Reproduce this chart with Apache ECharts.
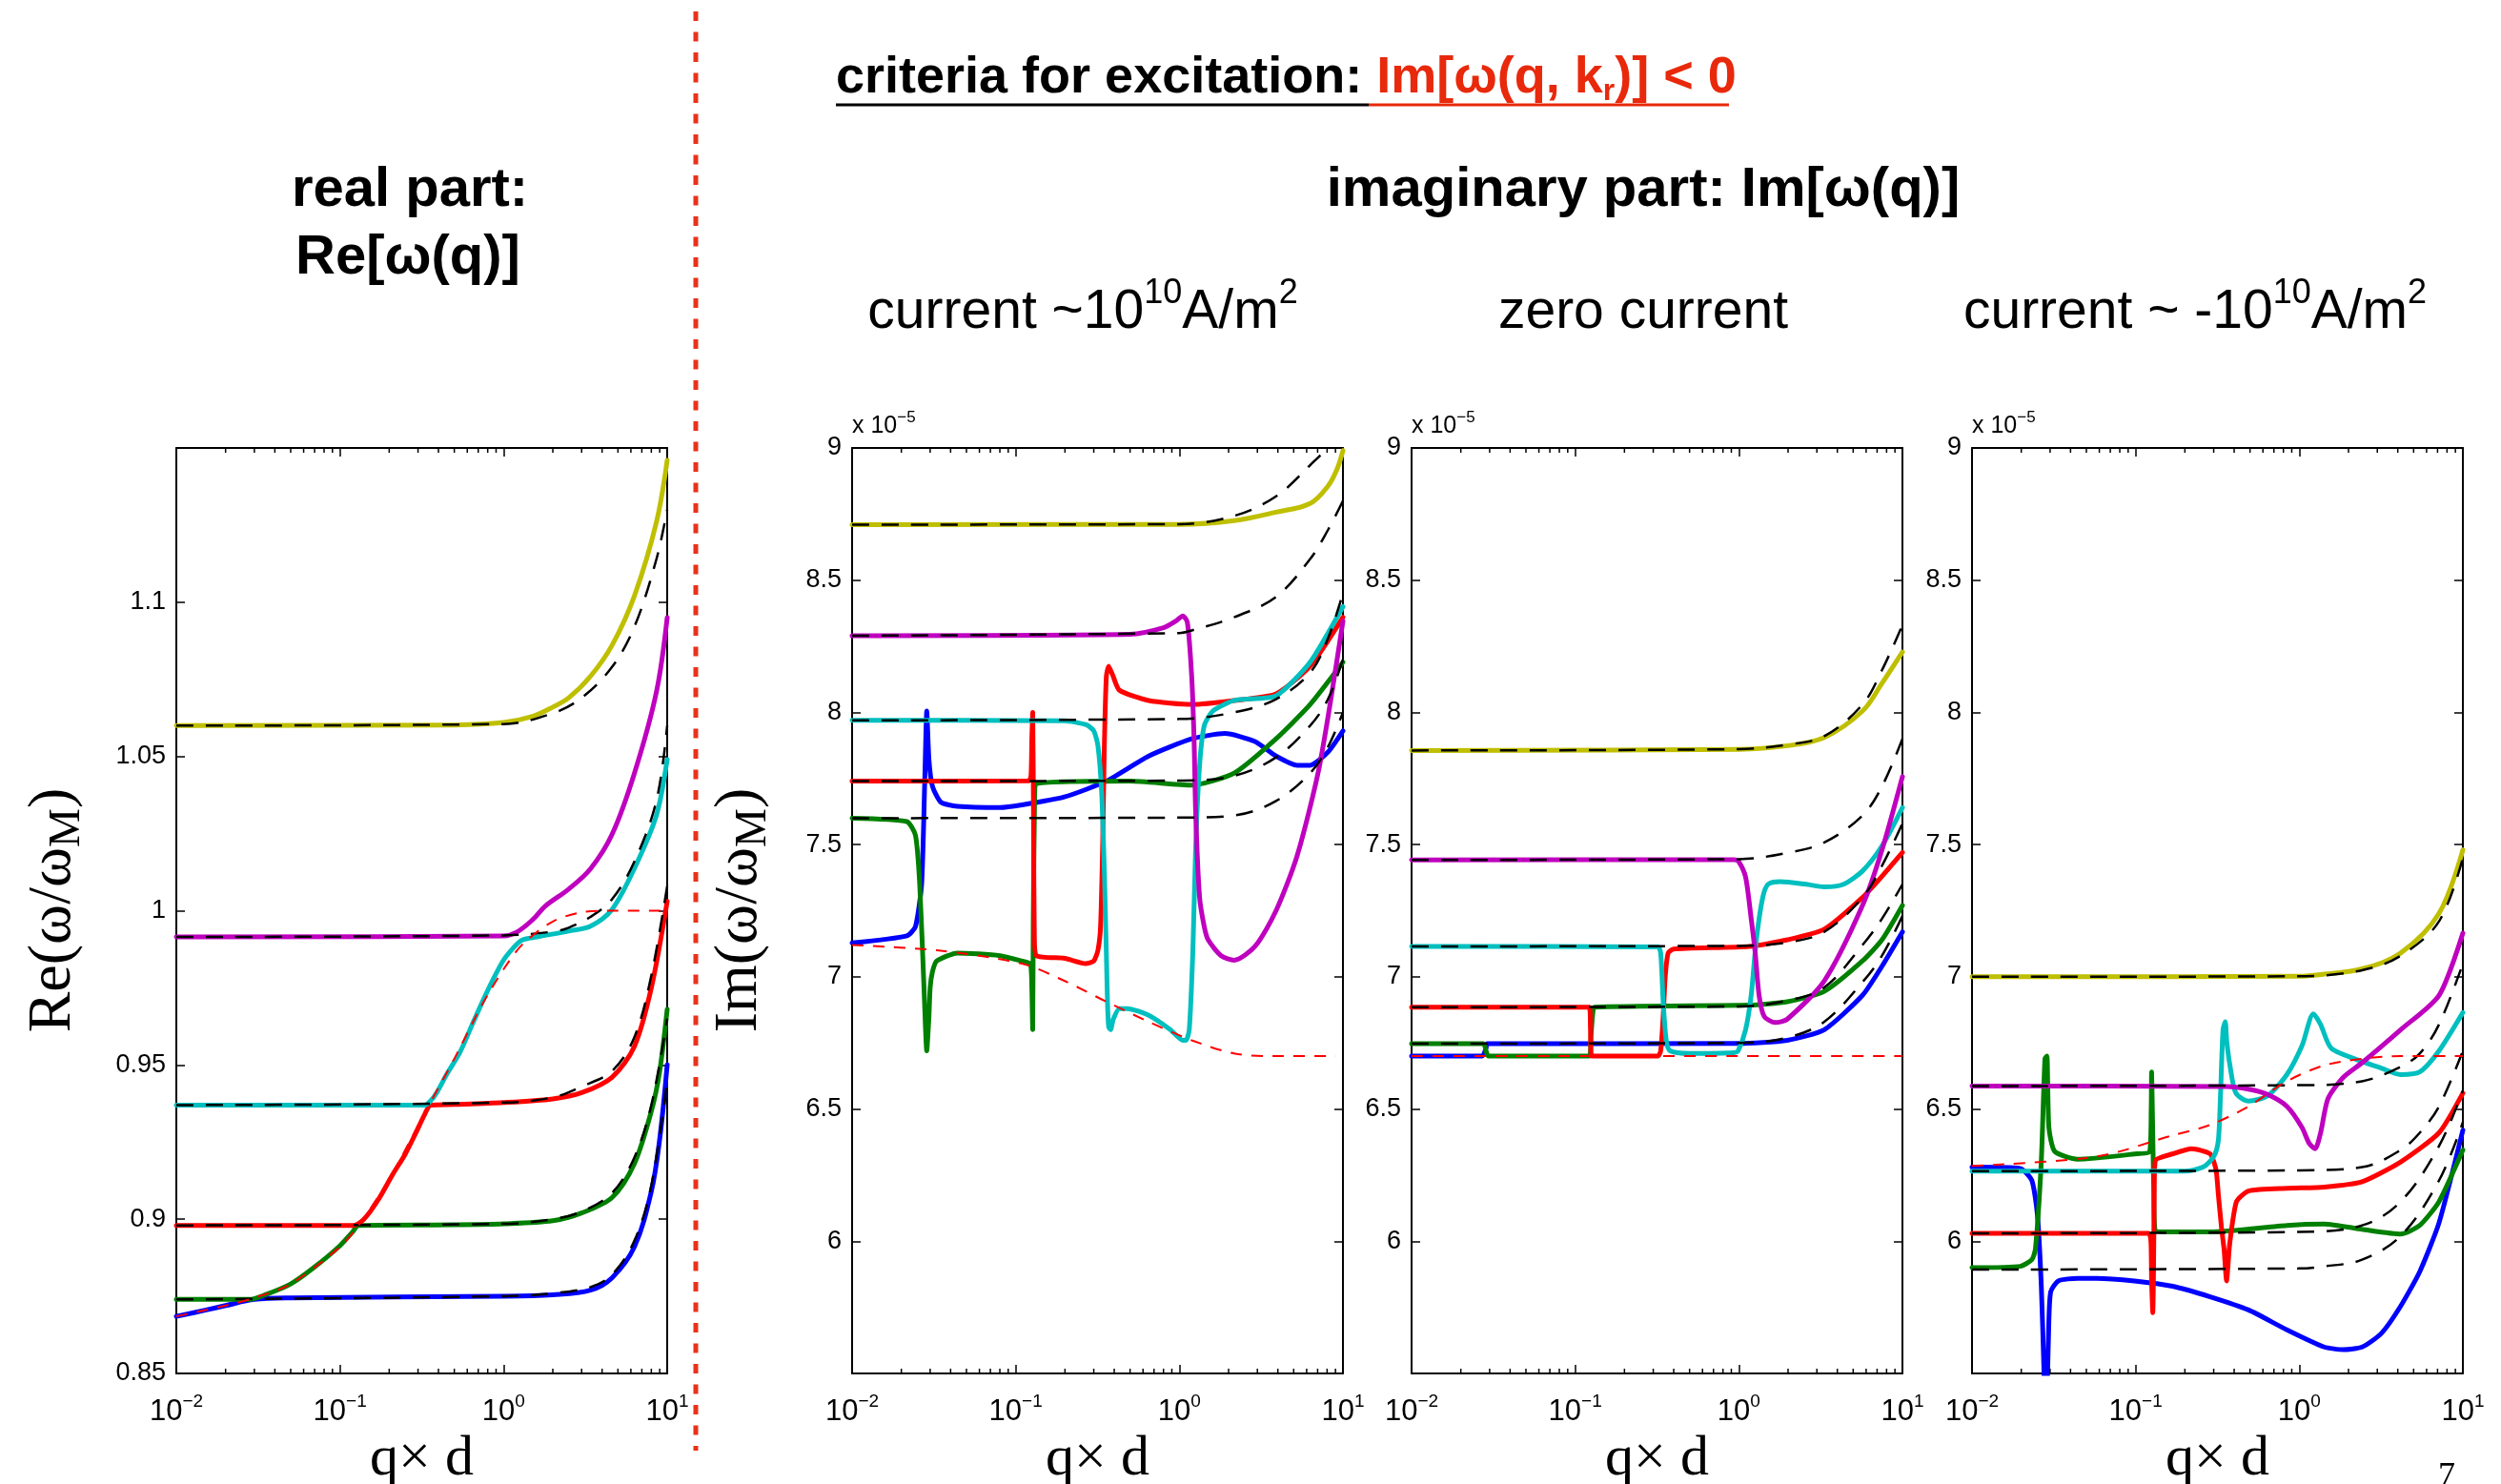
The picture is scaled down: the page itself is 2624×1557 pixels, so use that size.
<!DOCTYPE html>
<html><head><meta charset="utf-8">
<script src="https://cdn.jsdelivr.net/npm/echarts/dist/echarts.min.js"></script>
<style>html,body{margin:0;padding:0;background:#fff}#c{width:2624px;height:1557px}</style>
</head><body><div id="c"></div><script>
// ---------- tick positions ----------
const xMajorLabels = [0.01, 0.1, 1, 10];
const minorTicks = [0.02,0.03,0.04,0.05,0.06,0.07,0.08,0.09,0.2,0.3,0.4,0.5,0.6,0.7,0.8,0.9,2,3,4,5,6,7,8,9];

// ---------- panel 1 : Re(w/wM) ----------
const re_yellow  = [[0.01,1.060],[0.5,1.0602],[1,1.061],[1.5,1.063],[2,1.066],[2.5,1.069],[3.4,1.076],[4.6,1.086],[6.3,1.102],[8.6,1.126],[10,1.146]];
const re_magenta = [[0.01,0.9915],[1,0.9918],[1.2,0.993],[1.5,0.997],[1.8,1.0015],[2.5,1.007],[3.4,1.0136],[4.6,1.0247],[6.3,1.0445],[8.6,1.071],[10,1.095]];
const re_cyan    = [[0.01,0.937],[0.33,0.937],[0.36,0.9385],[0.39,0.941],[0.45,0.947],[0.54,0.954],[0.63,0.962],[0.73,0.9696],[0.85,0.977],[1.0,0.984],[1.15,0.988],[1.3,0.9905],[1.6,0.9915],[2.5,0.9934],[3.4,0.995],[4.6,1.0004],[6.3,1.0137],[8.6,1.031],[10,1.049]];
const re_red     = [[0.01,0.898],[0.12,0.898],[0.14,0.9],[0.17,0.906],[0.21,0.9145],[0.25,0.921],[0.29,0.9278],[0.33,0.934],[0.36,0.937],[0.5,0.9372],[1,0.9378],[2,0.939],[3,0.941],[4.6,0.946],[6.3,0.956],[8,0.975],[10,1.003]];
const re_green   = [[0.01,0.874],[0.028,0.874],[0.035,0.8755],[0.05,0.879],[0.07,0.8845],[0.1,0.8914],[0.12,0.896],[0.13,0.898],[0.5,0.8982],[1,0.8985],[2,0.8995],[3,0.902],[4.6,0.907],[6.3,0.918],[8,0.935],[9,0.948],[10,0.968]];
const re_blue    = [[0.01,0.8685],[0.015,0.8705],[0.02,0.872],[0.03,0.874],[0.05,0.8745],[1,0.875],[2,0.8755],[3.4,0.877],[4.6,0.881],[6.3,0.891],[8,0.909],[9,0.926],[10,0.95]];
const re_dash_y  = [[0.01,1.060],[1,1.0605],[2,1.064],[3,1.069],[4.6,1.079],[6.3,1.092],[8.6,1.114],[10,1.13]];
const re_dash_m  = [[0.01,0.9915],[1,0.992],[2,0.9932],[2.5,0.9945],[3.4,0.998],[4.6,1.0037],[6.3,1.0159],[8.6,1.0357],[10,1.06]];
const re_dash_r  = [[0.01,0.937],[1,0.9378],[2,0.9395],[3,0.943],[4.6,0.948],[6.3,0.959],[8,0.979],[10,1.008]];
const re_dash_g  = [[0.01,0.898],[1,0.8985],[2,0.9],[3,0.9025],[4.6,0.9085],[6.3,0.92],[8,0.937],[10,0.965]];
const re_dash_b  = [[0.01,0.874],[1,0.875],[2,0.876],[3.4,0.878],[4.6,0.882],[6.3,0.893],[8,0.911],[10,0.945]];
const re_light   = [[0.01,0.8685],[0.02,0.872],[0.03,0.8745],[0.05,0.879],[0.1,0.891],[0.13,0.898],[0.2,0.913],[0.35,0.937],[0.5,0.952],[0.73,0.969],[1.0,0.981],[1.3,0.989],[2,0.9965],[3,0.9995],[4.5,1.0],[10,1.0]];

// ---------- panel 2 : Im, current ~ +1e10 ----------
const p2_yellow  = [[0.01,8.71],[1,8.711],[2.16,8.725],[3.9,8.757],[6.3,8.79],[8.1,8.856],[9.2,8.92],[10,8.99]];
const p2_magenta = [[0.01,8.29],[0.5,8.295],[0.8,8.32],[0.95,8.345],[1.05,8.365],[1.12,8.34],[1.19,8.136],[1.23,7.9],[1.26,7.61],[1.33,7.30],[1.42,7.19],[1.5,7.14],[1.8,7.08],[2.16,7.063],[2.9,7.115],[3.9,7.25],[5.26,7.46],[7.2,7.80],[10,8.345]];
const p2_cyan    = [[0.01,7.97],[0.2,7.968],[0.27,7.953],[0.3,7.93],[0.318,7.874],[0.335,7.7],[0.348,7.4],[0.358,7.09],[0.364,6.9],[0.37,6.81],[0.38,6.80],[0.395,6.84],[0.43,6.88],[0.483,6.88],[0.65,6.854],[0.88,6.80],[1.05,6.76],[1.1,6.76],[1.15,6.8],[1.21,7.1],[1.26,7.5],[1.33,7.8],[1.42,7.95],[1.6,8.005],[2.16,8.045],[3.9,8.063],[6.3,8.19],[10,8.40]];
const p2_red     = [[0.01,7.74],[0.12,7.741],[0.124,7.76],[0.1255,7.9],[0.127,8.0],[0.1285,7.6],[0.13,7.15],[0.134,7.08],[0.2,7.07],[0.267,7.05],[0.3,7.06],[0.318,7.1],[0.33,7.19],[0.34,7.5],[0.348,7.87],[0.358,8.136],[0.37,8.175],[0.392,8.14],[0.43,8.084],[0.65,8.045],[1.19,8.03],[2.16,8.045],[3.9,8.07],[6.3,8.175],[10,8.36]];
const p2_green   = [[0.01,7.60],[0.0216,7.587],[0.0244,7.535],[0.0259,7.35],[0.0275,6.96],[0.0286,6.72],[0.0295,6.85],[0.03,6.96],[0.031,7.02],[0.0329,7.06],[0.044,7.09],[0.08,7.08],[0.109,7.06],[0.1225,7.05],[0.125,7.0],[0.127,6.80],[0.128,7.2],[0.13,7.6],[0.134,7.73],[0.5,7.74],[1.19,7.725],[2.16,7.77],[3.9,7.90],[6.3,8.03],[10,8.19]];
const p2_blue    = [[0.01,7.128],[0.0216,7.155],[0.0244,7.19],[0.0266,7.35],[0.0278,7.74],[0.0286,8.005],[0.0295,7.82],[0.031,7.72],[0.0349,7.66],[0.044,7.645],[0.08,7.64],[0.109,7.65],[0.198,7.68],[0.358,7.74],[0.65,7.835],[1.19,7.90],[1.9,7.92],[2.9,7.89],[3.9,7.835],[5.26,7.80],[6.3,7.80],[8.1,7.85],[10,7.93]];
const p2_dash_y  = [[0.01,8.71],[1,8.712],[2.16,8.743],[3.9,8.817],[6.3,8.935],[8.1,9.01],[10,9.15]];
const p2_dash_m  = [[0.01,8.29],[1,8.3],[1.19,8.31],[2.16,8.36],[3.9,8.437],[6.3,8.58],[8.1,8.69],[10,8.8]];
const p2_dash_c  = [[0.01,7.97],[1,7.975],[2.16,8.0],[3.9,8.05],[6.3,8.15],[8.1,8.28],[10,8.45]];
const p2_dash_r  = [[0.01,7.74],[1,7.742],[2.16,7.76],[3.9,7.83],[6.3,7.95],[8.1,8.05],[10,8.2]];
const p2_dash_g  = [[0.01,7.60],[1,7.602],[2.16,7.61],[3.9,7.665],[6.3,7.77],[8.1,7.87],[10,8.0]];
const p2_light   = [[0.01,7.12],[0.033,7.10],[0.109,7.05],[0.198,6.985],[0.358,6.906],[0.65,6.83],[1.19,6.76],[2.16,6.71],[3.9,6.70],[9,6.70]];

// ---------- panel 3 : Im, zero current ----------
const p3_yellow  = [[0.01,7.856],[1,7.86],[1.98,7.874],[3.33,7.905],[5.7,8.005],[7.5,8.11],[10,8.228]];
const p3_magenta = [[0.01,7.442],[0.94,7.443],[1.0,7.435],[1.1,7.377],[1.19,7.22],[1.26,7.09],[1.33,6.93],[1.43,6.85],[1.67,6.827],[1.98,6.84],[3.33,6.985],[5.7,7.27],[7.5,7.48],[10,7.757]];
const p3_cyan    = [[0.01,7.115],[0.32,7.113],[0.333,7.09],[0.345,6.905],[0.36,6.76],[0.38,6.72],[0.5,6.71],[0.94,6.713],[0.99,6.72],[1.10,6.80],[1.19,6.93],[1.28,7.14],[1.40,7.30],[1.51,7.35],[1.79,7.36],[2.58,7.35],[3.33,7.34],[4.37,7.35],[5.7,7.40],[7.5,7.495],[10,7.64]];
const p3_red     = [[0.01,6.885],[0.122,6.885],[0.124,6.80],[0.126,6.70],[0.32,6.70],[0.333,6.72],[0.345,6.85],[0.355,7.0],[0.37,7.09],[0.4,7.105],[1.16,7.115],[1.98,7.14],[3.33,7.18],[5.7,7.30],[7.5,7.38],[10,7.47]];
const p3_green   = [[0.01,6.747],[0.0275,6.747],[0.0285,6.72],[0.0295,6.70],[0.122,6.70],[0.125,6.78],[0.128,6.86],[0.131,6.885],[1.16,6.893],[1.98,6.906],[3.33,6.945],[5.7,7.06],[7.5,7.14],[10,7.27]];
const p3_blue    = [[0.01,6.70],[0.027,6.70],[0.0285,6.73],[0.029,6.747],[1,6.748],[1.98,6.76],[3.33,6.80],[5.7,6.93],[7.5,7.04],[10,7.17]];
const p3_dash_y  = [[0.01,7.856],[1,7.861],[1.98,7.878],[3.33,7.91],[5.7,8.03],[7.5,8.16],[10,8.33]];
const p3_dash_m  = [[0.01,7.442],[1,7.445],[1.98,7.469],[3.33,7.508],[5.7,7.61],[7.5,7.72],[10,7.90]];
const p3_dash_c  = [[0.01,7.115],[1,7.117],[1.98,7.13],[3.33,7.17],[5.7,7.30],[7.5,7.42],[10,7.58]];
const p3_dash_r  = [[0.01,6.885],[1,6.888],[1.98,6.91],[3.33,6.96],[5.7,7.12],[7.5,7.22],[10,7.35]];
const p3_dash_g  = [[0.01,6.747],[1,6.75],[1.98,6.77],[3.33,6.83],[5.7,6.98],[7.5,7.08],[10,7.23]];
const p3_light   = [[0.01,6.70],[10,6.70]];

// ---------- panel 4 : Im, current ~ -1e10 ----------
const p4_yellow  = [[0.01,7.0],[1,7.002],[1.42,7.01],[2.42,7.03],[4.17,7.09],[7.15,7.24],[10,7.48]];
const p4_magenta = [[0.01,6.587],[0.36,6.585],[0.49,6.575],[0.64,6.555],[0.84,6.51],[1.04,6.43],[1.15,6.37],[1.25,6.35],[1.35,6.41],[1.5,6.54],[1.86,6.62],[2.42,6.675],[4.17,6.80],[7.15,6.93],[10,7.165]];
const p4_cyan    = [[0.01,6.265],[0.2,6.265],[0.258,6.28],[0.3,6.32],[0.32,6.38],[0.33,6.55],[0.342,6.80],[0.353,6.83],[0.36,6.76],[0.376,6.67],[0.41,6.56],[0.49,6.53],[0.64,6.55],[0.84,6.63],[1.04,6.74],[1.22,6.86],[1.35,6.82],[1.57,6.73],[2.42,6.68],[3.16,6.655],[4.17,6.63],[5.45,6.64],[7.15,6.72],[10,6.865]];
const p4_red     = [[0.01,6.03],[0.12,6.03],[0.124,6.0],[0.1252,5.85],[0.1273,5.73],[0.1287,5.9],[0.13,6.2],[0.132,6.305],[0.168,6.33],[0.22,6.35],[0.2855,6.33],[0.31,6.27],[0.3204,6.175],[0.335,6.05],[0.347,5.97],[0.3597,5.85],[0.366,5.9],[0.3757,5.99],[0.4135,6.15],[0.49,6.19],[0.84,6.20],[1.42,6.205],[2.42,6.225],[4.17,6.30],[7.15,6.41],[10,6.56]];
const p4_green   = [[0.01,5.90],[0.0197,5.905],[0.0232,5.93],[0.0244,5.97],[0.0265,6.30],[0.0279,6.69],[0.0287,6.70],[0.0295,6.43],[0.032,6.34],[0.0441,6.31],[0.0984,6.33],[0.122,6.34],[0.1245,6.5],[0.1252,6.64],[0.1265,6.5],[0.129,6.2],[0.132,6.04],[0.168,6.035],[0.2855,6.035],[0.84,6.06],[1.42,6.065],[2.42,6.045],[4.17,6.027],[5.45,6.06],[7.15,6.15],[10,6.345]];
const p4_blue    = [[0.01,6.28],[0.0197,6.275],[0.0232,6.23],[0.0251,6.10],[0.0265,5.835],[0.0275,5.52],[0.028,5.3],[0.0287,5.4],[0.0295,5.7],[0.0303,5.81],[0.0337,5.85],[0.0441,5.86],[0.0576,5.86],[0.0984,5.85],[0.168,5.83],[0.2855,5.79],[0.49,5.74],[0.84,5.665],[1.42,5.60],[1.86,5.59],[2.42,5.60],[3.16,5.65],[4.17,5.755],[5.45,5.885],[7.15,6.07],[10,6.42]];
const p4_dash_y  = [[0.01,7.0],[1,7.002],[2.42,7.025],[4.17,7.08],[7.15,7.21],[10,7.45]];
const p4_dash_m  = [[0.01,6.587],[1,6.59],[2.42,6.605],[4.17,6.66],[5.45,6.71],[7.15,6.82],[10,7.05]];
const p4_dash_c  = [[0.01,6.265],[1,6.268],[2.42,6.28],[4.17,6.345],[5.45,6.41],[7.15,6.51],[10,6.72]];
const p4_dash_r  = [[0.01,6.03],[1,6.035],[2.42,6.06],[4.17,6.15],[7.15,6.36],[10,6.57]];
const p4_dash_g  = [[0.01,5.893],[1,5.897],[1.42,5.905],[2.42,5.93],[4.17,6.02],[7.15,6.23],[10,6.45]];
const p4_light   = [[0.01,6.285],[0.0576,6.32],[0.168,6.40],[0.2855,6.44],[0.49,6.51],[0.84,6.605],[1.42,6.665],[2.42,6.69],[4.17,6.70],[10,6.70]];

// ---------- chart setup ----------
const COL = {y:'#bfbf00', m:'#bf00bf', c:'#00bfbf', r:'#ff0000', g:'#008000', b:'#0000ff'};
// third entry: smoothing strength (lower for curves with sharp spikes)
const panels = [
  {left:185, solid:[[re_blue,'b',0.35],[re_green,'g',0.3],[re_red,'r',0.3],[re_cyan,'c',0.3],[re_magenta,'m',0.35],[re_yellow,'y',0.35]],
   dash:[re_dash_b,re_dash_g,re_dash_r,re_dash_m,re_dash_y], light:re_light, ymin:0.85, ymax:1.15, yint:0.05},
  {left:894, solid:[[p2_blue,'b',0.2],[p2_green,'g',0.2],[p2_red,'r',0.2],[p2_cyan,'c',0.2],[p2_magenta,'m',0.25],[p2_yellow,'y',0.35]],
   dash:[p2_dash_g,p2_dash_r,p2_dash_c,p2_dash_m,p2_dash_y], light:p2_light, ymin:5.5, ymax:9, yint:0.5},
  {left:1481, solid:[[p3_blue,'b',0.2],[p3_green,'g',0.2],[p3_red,'r',0.2],[p3_cyan,'c',0.25],[p3_magenta,'m',0.25],[p3_yellow,'y',0.35]],
   dash:[p3_dash_g,p3_dash_r,p3_dash_c,p3_dash_m,p3_dash_y], light:p3_light, ymin:5.5, ymax:9, yint:0.5},
  {left:2069, solid:[[p4_blue,'b',0.2],[p4_green,'g',0.2],[p4_red,'r',0.2],[p4_cyan,'c',0.25],[p4_magenta,'m',0.25],[p4_yellow,'y',0.35]],
   dash:[p4_dash_g,p4_dash_r,p4_dash_c,p4_dash_m,p4_dash_y], light:p4_light, ymin:5.5, ymax:9, yint:0.5}
];
const TOP = 470, H = 971, W = 515;
const FONT = 'Liberation Sans, Arial, Helvetica, sans-serif';
const SERIF = 'Liberation Serif, Times New Roman, serif';

const grid = [], xAxis = [], yAxis = [], series = [];
const axLine = {show:true, lineStyle:{color:'#000', width:2}};
panels.forEach((p, i) => {
  grid.push({left:p.left, top:TOP, width:W, height:H, show:false, containLabel:false, outerBoundsMode:'none'});
  xAxis.push({type:'log', logBase:10, min:0.01, max:10, gridIndex:i, position:'bottom',
    axisLine:axLine, axisTick:{inside:true, length:9, lineStyle:{color:'#000', width:1.5}},
    splitLine:{show:false},
    axisLabel:{margin:20, color:'#000',
      formatter:v => { const e = Math.round(Math.log10(v)); return '{b|10}{s|' + (e<0?'\u2212':'') + Math.abs(e) + '}'; },
      rich:{b:{fontSize:31, fontFamily:FONT, color:'#000', lineHeight:40}, s:{fontSize:19, fontFamily:FONT, color:'#000', verticalAlign:'top', lineHeight:19}}},
    name:'q\u00d7 d', nameLocation:'middle', nameGap:58,
    nameTextStyle:{fontFamily:SERIF, fontSize:60, color:'#000'}});
  xAxis.push({type:'log', logBase:10, min:0.01, max:10, gridIndex:i, position:'top',
    axisLine:axLine, axisTick:{inside:true, length:9, lineStyle:{color:'#000', width:1.5}},
    axisLabel:{show:false}, splitLine:{show:false}});
  const ymin = p.ymin, ymax = p.ymax;
  yAxis.push({type:'value', min:ymin, max:ymax, interval:p.yint, gridIndex:i, position:'left',
    axisLine:axLine, axisTick:{inside:true, length:9, lineStyle:{color:'#000', width:1.5}},
    splitLine:{show:false},
    axisLabel:{margin:11, color:'#000', fontSize:27, fontFamily:FONT,
      formatter:v => (Math.abs(v-ymin)<1e-9 && i>0) || (Math.abs(v-ymax)<1e-9 && i===0) ? '' : String(+v.toFixed(2))}});
  yAxis.push({type:'value', min:ymin, max:ymax, interval:p.yint, gridIndex:i, position:'right',
    axisLine:axLine, axisTick:{inside:true, length:9, lineStyle:{color:'#000', width:1.5}},
    axisLabel:{show:false}, splitLine:{show:false}});
  const base = {type:'line', xAxisIndex:2*i, yAxisIndex:2*i, symbol:'none', showSymbol:false,
    silent:true, animation:false, clip:true};
  p.solid.forEach(([d, c, s]) => series.push(Object.assign({}, base, {data:d, z:2, smooth:s,
    lineStyle:{color:COL[c], width:5, cap:'round', join:'round'}})));
  p.dash.forEach(d => series.push(Object.assign({}, base, {data:d, z:3, smooth:0.35,
    lineStyle:{color:'#000', width:2.5, type:[18,13]}})));
  series.push(Object.assign({}, base, {data:p.light, z:4, smooth:0.3,
    lineStyle:{color:'#ff0000', width:2, type:[12,10]}}));
  series.push({type:'custom', xAxisIndex:2*i, yAxisIndex:2*i, silent:true, animation:false, z:5,
    data:minorTicks.map(v => [v, ymin]),
    renderItem:(params, api) => {
      const cs = params.coordSys;
      const x = api.coord([api.value(0), api.value(1)])[0];
      return {type:'group', children:[
        {type:'line', shape:{x1:x, y1:cs.y+cs.height, x2:x, y2:cs.y+cs.height-5}, style:{stroke:'#000', lineWidth:1.5}},
        {type:'line', shape:{x1:x, y1:cs.y, x2:x, y2:cs.y+5}, style:{stroke:'#000', lineWidth:1.5}}
      ]};
    }});
});

function txt(x, y, text, rich, extra) {
  return Object.assign({type:'text', x, y, silent:true,
    style:{text, rich, align:'center', verticalAlign:'middle', textAlign:'center', textVerticalAlign:'middle'}}, extra||{});
}
const titleRich = {k:{fontSize:54, fontWeight:'bold', fontFamily:FONT, fill:'#000', lineHeight:60},
                   r:{fontSize:54, fontWeight:'bold', fontFamily:FONT, fill:'#e8290b', lineHeight:60},
                   rs:{fontSize:32, fontWeight:'bold', fontFamily:FONT, fill:'#e8290b', verticalAlign:'bottom', lineHeight:32}};
const nameRich = {n:{fontSize:64, fontFamily:SERIF, fill:'#000', lineHeight:76}, s:{fontSize:46, fontFamily:SERIF, fill:'#000', verticalAlign:'bottom', lineHeight:46}};
const supRich = {n:{fontSize:57, fontFamily:FONT, fill:'#000', lineHeight:76}, s:{fontSize:36, fontFamily:FONT, fill:'#000', verticalAlign:'top', lineHeight:36}};
const graphic = [
  {type:'text', x:877, y:82, silent:true, style:{text:'{k|criteria for excitation: }{r|Im[\u03c9(q, k}{rs|r}{r|)] < 0}',
    align:'left', textAlign:'left', verticalAlign:'middle', textVerticalAlign:'middle', rich:titleRich}},
  {type:'line', silent:true, shape:{x1:877, y1:110, x2:1436, y2:110}, style:{stroke:'#000', lineWidth:3}},
  {type:'line', silent:true, shape:{x1:1436, y1:110, x2:1814, y2:110}, style:{stroke:'#e8290b', lineWidth:3}},
  txt(430, 200, '{k|real part:}', {k:{fontSize:58, fontWeight:'bold', fontFamily:FONT, fill:'#000'}}),
  txt(428, 271, '{k|Re[\u03c9(q)]}', {k:{fontSize:58, fontWeight:'bold', fontFamily:FONT, fill:'#000'}}),
  txt(1724, 200, '{k|imaginary part: Im[\u03c9(q)]}', {k:{fontSize:58, fontWeight:'bold', fontFamily:FONT, fill:'#000'}}),
  txt(1136, 328, '{n|current ~10}{s|10}{n|A/m}{s|2}', supRich),
  txt(1724, 328, '{n|zero current}', supRich),
  txt(2303, 328, '{n|current ~ -10}{s|10}{n|A/m}{s|2}', supRich),
  // y axis names
  txt(56, 955, '{n|Re(\u03c9/\u03c9}{s|M}{n|)}', nameRich, {rotation:Math.PI/2}),
  txt(776, 955, '{n|Im(\u03c9/\u03c9}{s|M}{n|)}', nameRich, {rotation:Math.PI/2}),
  // separator
  {type:'line', silent:true, shape:{x1:730, y1:12, x2:730, y2:1522}, style:{stroke:'#e8321a', lineWidth:5, lineDash:[10,11.5]}},
  // page number
  txt(2567, 1550, '{n|7}', {n:{fontSize:36, fontFamily:SERIF, fill:'#000'}})
];
[894, 1481, 2069].forEach(x => {
  graphic.push({type:'text', x:x, y:447, silent:true, style:{text:'{n|x 10}{s|\u22125}', align:'left', textAlign:'left', verticalAlign:'middle', textVerticalAlign:'middle',
    rich:{n:{fontSize:25, fontFamily:FONT, fill:'#000', lineHeight:34}, s:{fontSize:17, fontFamily:FONT, fill:'#000', verticalAlign:'top', lineHeight:17}}}});
});

const chart = echarts.init(document.getElementById('c'), null, {renderer:'canvas'});
chart.setOption({animation:false, backgroundColor:'#fff', grid, xAxis, yAxis, series, graphic});
</script></body></html>
